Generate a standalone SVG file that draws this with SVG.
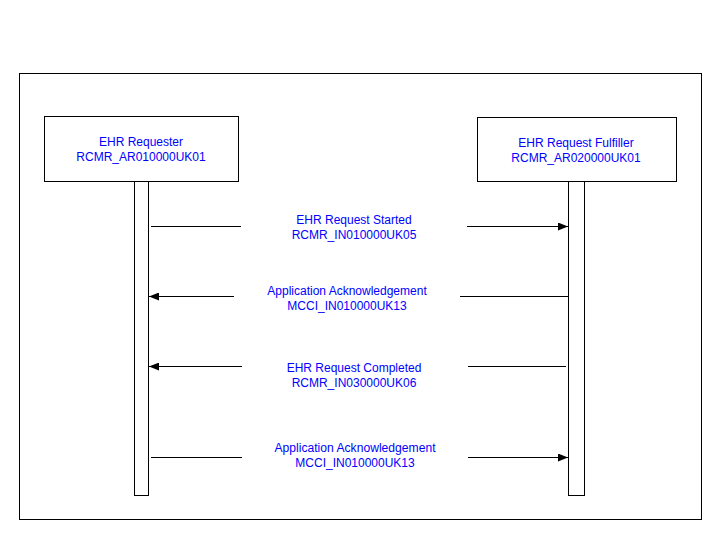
<svg xmlns="http://www.w3.org/2000/svg" width="720" height="540" viewBox="0 0 720 540">
<defs>
<style>
.box{fill:#fff;stroke:#000;stroke-width:1}
.t{font-family:"Liberation Sans",Arial,sans-serif;font-size:12px;fill:#0000ff;text-anchor:middle}
.ln{stroke:#000;stroke-width:1;fill:none}
</style>
<marker id="ah" markerWidth="10" markerHeight="8" refX="10" refY="4" orient="auto" markerUnits="userSpaceOnUse">
<path d="M0,0 L10,4 L0,8 Z" fill="#000"/>
</marker>
</defs>
<rect width="720" height="540" fill="#fff"/>
<rect x="19.5" y="73.5" width="682" height="446" class="box"/>
<g id="requester">
<rect x="44.5" y="116.5" width="194" height="65" class="box"/>
<text class="t" x="141" y="146">EHR Requester</text>
<text class="t" x="141" y="161">RCMR_AR010000UK01</text>
<rect x="134.5" y="181.5" width="14" height="314" class="box"/>
</g>
<g id="fulfiller">
<rect x="477.5" y="117.5" width="199" height="64" class="box"/>
<text class="t" x="576" y="147">EHR Request Fulfiller</text>
<text class="t" x="576" y="162">RCMR_AR020000UK01</text>
<rect x="568.5" y="181.5" width="16" height="314" class="box"/>
</g>
<g id="connectors">
<line class="ln" x1="151" y1="226.5" x2="241" y2="226.5"/>
<line class="ln" x1="467" y1="226.5" x2="568" y2="226.5" marker-end="url(#ah)"/>
<line class="ln" x1="234" y1="296.5" x2="149" y2="296.5" marker-end="url(#ah)"/>
<line class="ln" x1="460" y1="296.5" x2="568" y2="296.5"/>
<line class="ln" x1="242" y1="366.5" x2="149" y2="366.5" marker-end="url(#ah)"/>
<line class="ln" x1="468" y1="366.5" x2="566" y2="366.5"/>
<line class="ln" x1="151" y1="457.5" x2="242" y2="457.5"/>
<line class="ln" x1="468" y1="457.5" x2="568" y2="457.5" marker-end="url(#ah)"/>
</g>
<g id="labels">
<text class="t" x="354" y="224">EHR Request Started</text>
<text class="t" x="354" y="239">RCMR_IN010000UK05</text>
<text class="t" x="347" y="295">Application Acknowledgement</text>
<text class="t" x="347" y="310">MCCI_IN010000UK13</text>
<text class="t" x="354" y="372">EHR Request Completed</text>
<text class="t" x="354" y="387">RCMR_IN030000UK06</text>
<text class="t" x="355" y="452" textLength="161" lengthAdjust="spacingAndGlyphs">Application Acknowledgement</text>
<text class="t" x="355" y="467">MCCI_IN010000UK13</text>
</g>
</svg>
